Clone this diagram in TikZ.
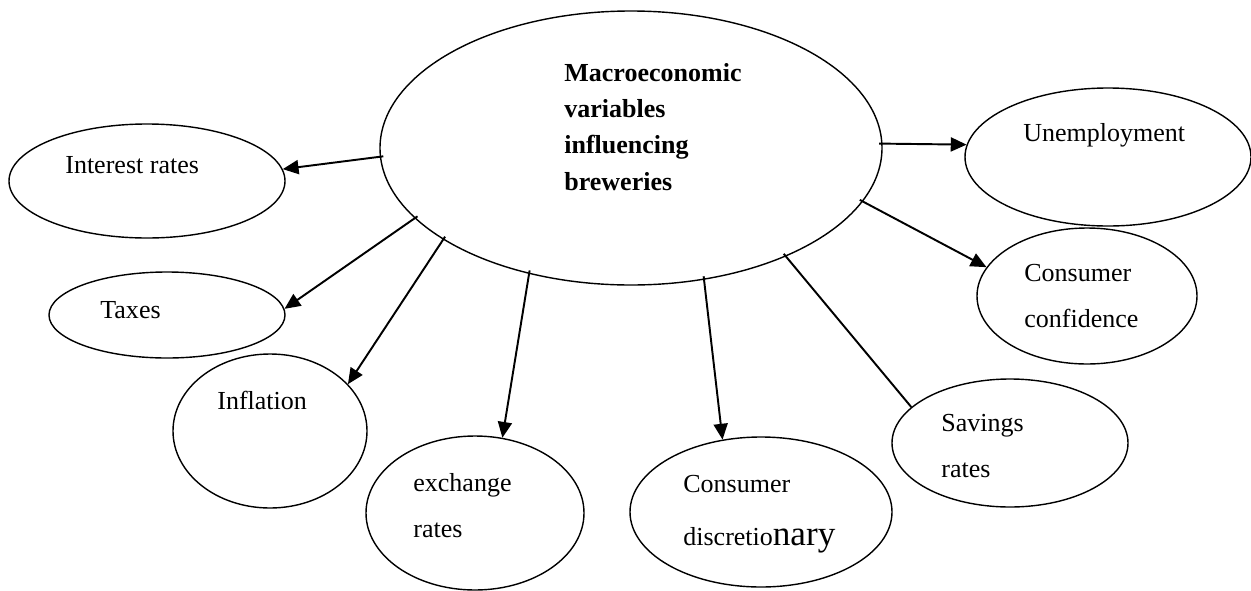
\documentclass[tikz,border=0pt]{standalone}
\usepackage{fontspec}
\setmainfont{Liberation Serif}
\usetikzlibrary{shapes.geometric,arrows.meta}

\tikzset{
  bubble/.style={draw, ellipse, line width=0.8pt, inner sep=0pt},
  lbl/.style={anchor=base west, align=left, inner sep=0pt, font=\fontsize{14.8}{26}\selectfont},
  link/.style={line width=1.1pt, shorten <=-2pt},
  arrowed/.style={-{Triangle[length=9pt,width=8pt]}}
}

\begin{document}
\begin{tikzpicture}
  \useasboundingbox (0,0) rectangle (25.02,-11.8);
  % the bubbles
  \node[bubble, minimum width=10.04cm, minimum height=5.48cm] (macro) at (12.62,-2.96) {};
  \node[bubble, minimum width=5.52cm, minimum height=2.28cm] (interest) at (2.94,-3.62) {};
  \node[bubble, minimum width=4.72cm, minimum height=1.72cm] (taxes) at (3.34,-6.30) {};
  \node[bubble, minimum width=3.88cm, minimum height=3.08cm] (inflation) at (5.40,-8.62) {};
  \node[bubble, minimum width=4.36cm, minimum height=3.08cm] (exchange) at (9.50,-10.26) {};
  \node[bubble, minimum width=5.24cm, minimum height=3.00cm] (discr) at (15.22,-10.24) {};
  \node[bubble, minimum width=4.72cm, minimum height=2.56cm] (savings) at (20.20,-8.86) {};
  \node[bubble, minimum width=4.40cm, minimum height=2.72cm] (confid) at (21.74,-5.92) {};
  \node[bubble, minimum width=5.72cm, minimum height=2.76cm] (unempl) at (22.16,-3.14) {};
  % the texts (base = last line)
  \node[lbl, font=\bfseries\fontsize{14.8}{20.5}\selectfont] (macroT) at (11.28,-3.80)
    {Macroeconomic\\variables\\influencing\\breweries};
  \node[lbl] (interestT) at (1.30,-3.46) {Interest rates};
  \node[lbl] (taxesT) at (2.00,-6.36) {Taxes};
  \node[lbl] (inflationT) at (4.34,-8.18) {Inflation};
  \node[lbl] (exchangeT) at (8.26,-10.74) {exchange\\rates};
  \node[lbl] (discrT) at (13.66,-10.90) {Consumer\\[4pt]discretio{\fontsize{20}{26}\selectfont nary}};
  \node[lbl] (savingsT) at (18.82,-9.54) {Savings\\rates};
  \node[lbl] (confidT) at (20.48,-6.54) {Consumer\\confidence};
  \node[lbl] (unemplT) at (20.46,-2.82) {Unemployment};
  % the links
  \draw[link, arrowed] (macro.182) -- (interest.5);
  \draw[link, arrowed] (macro.198) -- (taxes.3);
  \draw[link, arrowed] (macro.206) -- (inflation.31);
  \draw[link, arrowed] (macro.231) -- (exchange.70);
  \draw[link, arrowed] (macro.299) -- (discr.118);
  \draw[link] (macro.325) -- (savings.160);
  \draw[link, arrowed] (macro.347) -- (confid.164);
  \draw[link, arrowed] (macro.1) -- (unempl.175);
\end{tikzpicture}
\end{document}
